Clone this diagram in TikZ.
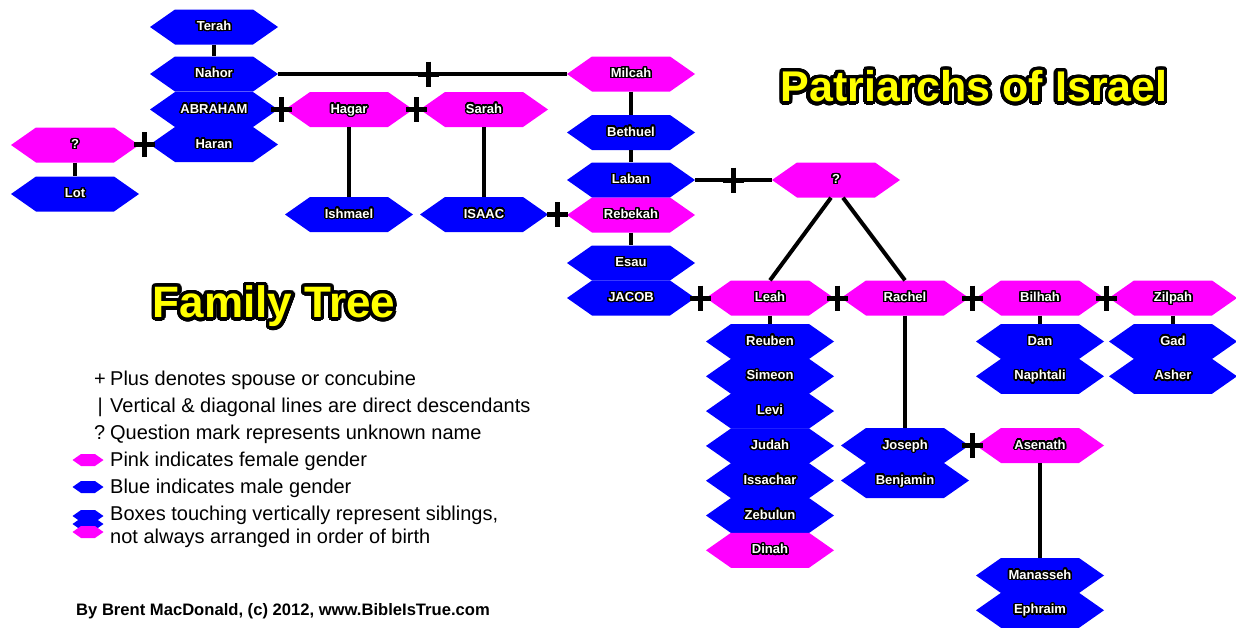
\documentclass[tikz,border=0pt]{standalone}
\usepackage{fontspec}
\setmainfont{Liberation Sans}
\usepackage[copies]{contour}
\usetikzlibrary{shapes.symbols}

\definecolor{femme}{RGB}{255,0,255}
\definecolor{homme}{RGB}{0,0,255}
\definecolor{gold}{RGB}{255,255,0}

\contourlength{1.4pt}
\newcommand{\nm}[1]{\contour[32]{black}{#1}}
\newcommand{\headline}[1]{{\contourlength{3.4pt}\contour[48]{black}{#1}}}

\begin{document}
\begin{tikzpicture}[x=1pt,y=-1pt]
			\tikzstyle{person}=[signal,signal to=east and west,signal pointer angle=70,minimum width=128,minimum height=35,inner sep=0,text height=9.5,text depth=2.5,text=white,font=\bfseries\fontsize{13}{15}\selectfont]
			\tikzstyle{male}=[person,fill=homme]
			\tikzstyle{female}=[person,fill=femme]
			\tikzstyle{kin}=[line width=4]
			\tikzstyle{wed}=[minimum width=21,minimum height=25,inner sep=0,path picture={\draw[line width=5] (path picture bounding box.north) -- (path picture bounding box.south) (path picture bounding box.west) -- (path picture bounding box.east);}]
			\tikzstyle{key}=[anchor=west,inner sep=0,font=\fontsize{20}{22}\selectfont]
			
			\useasboundingbox[fill=white] (0,0) rectangle (1236,627);
			
			% Terah's family
			\node [male] (terah) at (214,27) {\nm{Terah}};
			\node [male] (nahor) at (214,74) {\nm{Nahor}};
			\node [male] (abraham) at (214,109.5) {\nm{ABRAHAM}};
			\node [male] (haran) at (214,144.5) {\nm{Haran}};
			\node [female] (haranwife) at (75,145) {\nm{?}};
			\node [male] (lot) at (75,194) {\nm{Lot}};
			\node [female] (hagar) at (349,109.5) {\nm{Hagar}};
			\node [female] (sarah) at (484,109.5) {\nm{Sarah}};
			\node [male] (ishmael) at (349,214.5) {\nm{Ishmael}};
			\node [male] (isaac) at (484,214.5) {\nm{ISAAC}};
			
			% Nahor's line
			\node [female] (milcah) at (631,74) {\nm{Milcah}};
			\node [male] (bethuel) at (631,132.5) {\nm{Bethuel}};
			\node [male] (laban) at (631,180) {\nm{Laban}};
			\node [female] (rebekah) at (631,215) {\nm{Rebekah}};
			\node [male] (esau) at (631,263) {\nm{Esau}};
			\node [male] (jacob) at (631,298) {\nm{JACOB}};
			\node [female] (labanwife) at (836,180) {\nm{?}};
			
			% Jacob's wives and sons
			\node [female] (leah) at (770,298) {\nm{Leah}};
			\node [female] (rachel) at (905,298) {\nm{Rachel}};
			\node [female] (bilhah) at (1040,298) {\nm{Bilhah}};
			\node [female] (zilpah) at (1173,298) {\nm{Zilpah}};
			\node [male] (reuben) at (770,341.5) {\nm{Reuben}};
			\node [male] (simeon) at (770,376.3) {\nm{Simeon}};
			\node [male] (levi) at (770,411.1) {\nm{Levi}};
			\node [male] (judah) at (770,445.9) {\nm{Judah}};
			\node [male] (issachar) at (770,480.7) {\nm{Issachar}};
			\node [male] (zebulun) at (770,515.5) {\nm{Zebulun}};
			\node [female] (dinah) at (770,550.3) {\nm{Dinah}};
			\node [male] (joseph) at (905,445.5) {\nm{Joseph}};
			\node [male] (benjamin) at (905,480.5) {\nm{Benjamin}};
			\node [female] (asenath) at (1040,445.5) {\nm{Asenath}};
			\node [male] (manasseh) at (1040,575.5) {\nm{Manasseh}};
			\node [male] (ephraim) at (1040,610.3) {\nm{Ephraim}};
			\node [male] (dan) at (1040,341.5) {\nm{Dan}};
			\node [male] (naphtali) at (1040,376.3) {\nm{Naphtali}};
			\node [male] (gad) at (1173,341.5) {\nm{Gad}};
			\node [male] (asher) at (1173,376.3) {\nm{Asher}};
			
			% descent and marriage
			\draw [kin] (terah.south) -- (nahor.north);
			\draw [kin] (nahor.east) -- node [wed,pos=.52] {} (milcah.west);
			\draw [kin] (abraham.east) -- node [wed] {} (hagar.west);
			\draw [kin] (hagar.east) -- node [wed] {} (sarah.west);
			\draw [kin] (haranwife.east) -- node [wed] {} (haran.west);
			\draw [kin] (haranwife.south) -- (lot.north);
			\draw [kin] (hagar.south) -- (ishmael.north);
			\draw [kin] (sarah.south) -- (isaac.north);
			\draw [kin] (isaac.east) -- node [wed] {} (rebekah.west);
			\draw [kin] (milcah.south) -- (bethuel.north);
			\draw [kin] (bethuel.south) -- (laban.north);
			\draw [kin] (laban.east) -- node [wed] {} (labanwife.west);
			\draw [kin] (rebekah.south) -- (esau.north);
			\draw [kin] ([xshift=-5]labanwife.south) -- (leah.north);
			\draw [kin] ([xshift=7]labanwife.south) -- (rachel.north);
			\draw [kin] (jacob.east) -- node [wed] {} (leah.west);
			\draw [kin] (leah.east) -- node [wed] {} (rachel.west);
			\draw [kin] (rachel.east) -- node [wed] {} (bilhah.west);
			\draw [kin] (bilhah.east) -- node [wed] {} (zilpah.west);
			\draw [kin] (leah.south) -- (reuben.north);
			\draw [kin] (bilhah.south) -- (dan.north);
			\draw [kin] (zilpah.south) -- (gad.north);
			\draw [kin] (rachel.south) -- (joseph.north);
			\draw [kin] (joseph.east) -- node [wed] {} (asenath.west);
			\draw [kin] (asenath.south) -- (manasseh.north);
			
			% titles
			\node [text=gold,font=\bfseries\fontsize{43}{47}\selectfont] (maintitle) at (974,88) {\headline{Patriarchs of Israel}};
			\node [text=gold,font=\bfseries\fontsize{44}{48}\selectfont] (subtitle) at (274,308) {\headline{Family Tree}};
			
			% legend
			\node [key] (leg1) at (94,380) {\makebox[16pt][l]{+}Plus denotes spouse or concubine};
			\node [key] (leg2) at (94,407) {\makebox[16pt][l]{\,|}Vertical \& diagonal lines are direct descendants};
			\node [key] (leg3) at (94,434) {\makebox[16pt][l]{?}Question mark represents unknown name};
			\node [key] (leg4) at (110,461) {Pink indicates female gender};
			\node [key] (leg5) at (110,488) {Blue indicates male gender};
			\node [key,align=left,font=\fontsize{20}{22.5}\selectfont] (leg6) at (110,527) {Boxes touching vertically represent siblings,\\not always arranged in order of birth};
			\node [female,minimum width=31,minimum height=10] (pinkkey) at (88,460) {};
			\node [male,minimum width=31,minimum height=10] (bluekey) at (88,487) {};
			\node [male,minimum width=31,minimum height=8.5] (stack1) at (88,516) {};
			\node [male,minimum width=31,minimum height=8.5] (stack2) at (88,524) {};
			\node [female,minimum width=31,minimum height=8.5] (stack3) at (88,532) {};
			
			\node [anchor=west,inner sep=0,font=\bfseries\fontsize{16.6}{20}\selectfont] (credit) at (76,611) {By Brent MacDonald, (c) 2012, www.BibleIsTrue.com};
\end{tikzpicture}
\end{document}
